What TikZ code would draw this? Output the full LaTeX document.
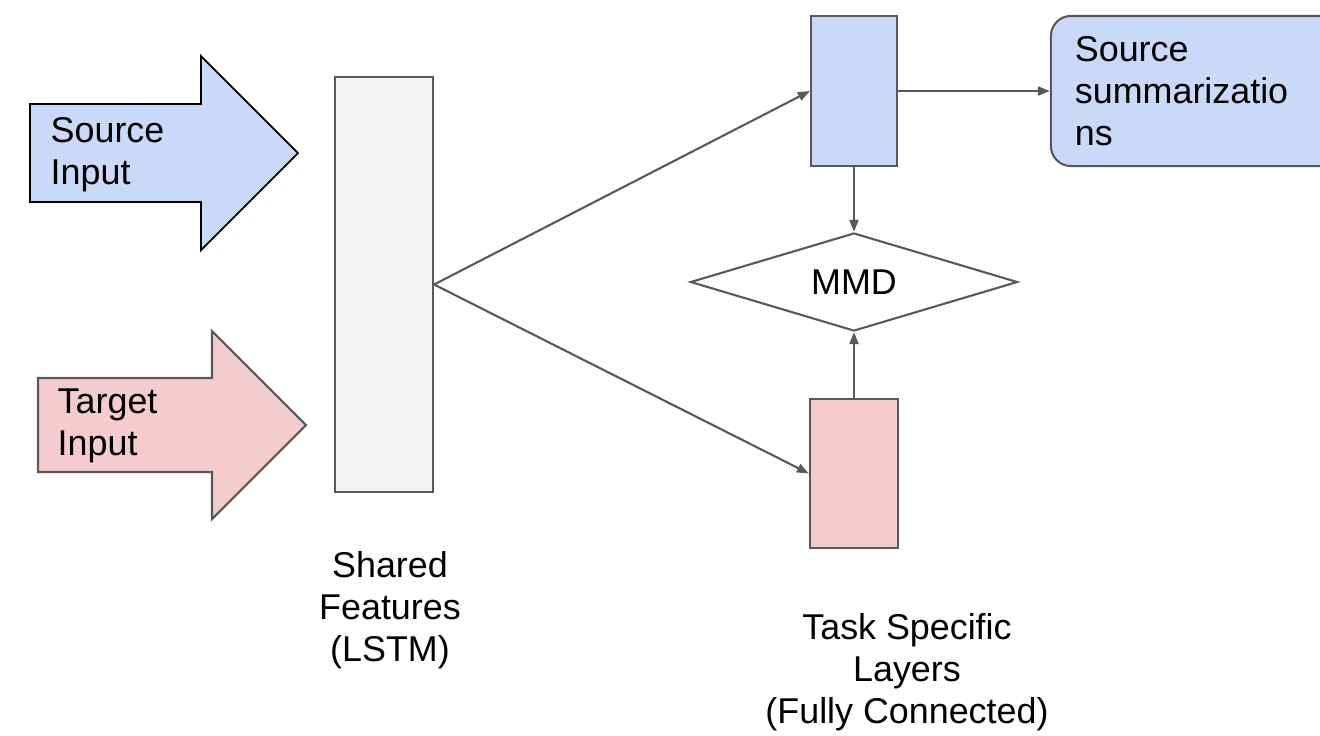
\documentclass[tikz,border=0pt]{standalone}
\usepackage{fontspec}
\setmainfont{Liberation Sans}
\usepackage{tikz}
\usetikzlibrary{shapes.geometric,arrows.meta,positioning,calc}

\definecolor{srcblue}{HTML}{C9DAF8}
\definecolor{tgtpink}{HTML}{F4CCCC}
\definecolor{sharedgray}{HTML}{F3F3F3}
\definecolor{linegray}{HTML}{595959}

\begin{document}
\begin{tikzpicture}[x=0.01cm, y=-0.01cm,
    font=\fontsize{10.2pt}{12pt}\selectfont,
    layer/.style={draw=linegray, line width=0.6pt, inner sep=0pt},
    link/.style={draw=linegray, line width=0.6pt, -{Triangle[length=0.12cm,width=0.09cm]}}]
    \useasboundingbox (0,0) rectangle (1320,735);

    % input arrows
    \draw[fill=srcblue, draw=black, line width=0.5pt] (30,104) -- (201,104) -- (201,56) -- (298,153)
        -- (201,250) -- (201,202) -- (30,202) -- cycle;
    \node[anchor=west, align=left, inner sep=0pt] (srcin) at (50,154.5) {Source\\Input};
    \draw[fill=tgtpink, draw=linegray, line width=0.6pt] (38,378) -- (212,378) -- (212,331) -- (306,425)
        -- (212,519) -- (212,472) -- (38,472) -- cycle;
    \node[anchor=west, align=left, inner sep=0pt] (tgtin) at (57,426) {Target\\Input};

    % shared and task layers
    \node[layer, fill=sharedgray, minimum width=0.98cm, minimum height=4.15cm] (lstm) at (384,284.5) {};
    \node[layer, fill=srcblue, minimum width=0.86cm, minimum height=1.5cm] (srcfc) at (854,91) {};
    \node[layer, fill=tgtpink, minimum width=0.88cm, minimum height=1.49cm] (tgtfc) at (854,473.5) {};
    \node[layer, diamond, aspect=3.3, minimum width=3.27cm, minimum height=0.98cm] (mmd) at (854,282) {MMD};
    \node[layer, fill=srcblue, rounded corners=0.2cm, minimum width=2.93cm, minimum height=1.5cm,
        text width=2.45cm, align=left, inner xsep=0.24cm] (summ) at (1197.5,91) {Source\\summarizatio\\ns};

    % captions
    \node[align=center] (sharedlbl) at (390,610) {Shared\\Features\\(LSTM)};
    \node[align=center] (tasklbl) at (907,672) {Task Specific\\Layers\\(Fully Connected)};

    % connections
    \coordinate (split) at (lstm.east);
    \draw[link] (split) -- (srcfc.west);
    \draw[link] (split) -- (tgtfc.west);
    \draw[link] (srcfc) -- (summ);
    \draw[link] (srcfc) -- (mmd);
    \draw[link] (tgtfc) -- (mmd);
\end{tikzpicture}
\end{document}
